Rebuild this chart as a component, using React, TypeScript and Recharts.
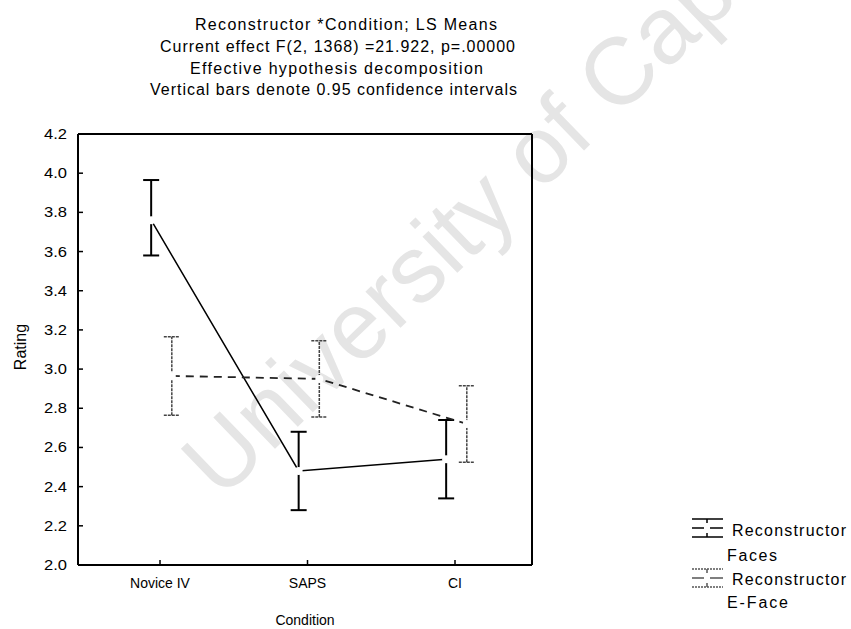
import React from 'react';
import { LineChart, Line, XAxis, YAxis, ErrorBar } from 'recharts';

// LS means with 0.95 confidence limits, per reconstructor and condition
const conditions = ['Novice IV', 'SAPS', 'CI'];
const facesMean = [3.76, 2.48, 2.54];
const facesLow = [3.58, 2.28, 2.34];
const facesHigh = [3.965, 2.68, 2.74];
const eFaceMean = [2.965, 2.95, 2.72];
const eFaceLow = [2.765, 2.755, 2.525];
const eFaceHigh = [3.165, 3.145, 2.915];
const ratingTicks = [2.0, 2.2, 2.4, 2.6, 2.8, 3.0, 3.2, 3.4, 3.6, 3.8, 4.0, 4.2];
const conditionTicks = [0, 1, 2];
const seriesNames = ['Reconstructor Faces', 'Reconstructor E-Face'];
const titleLines = [
  'Reconstructor *Condition; LS Means',
  'Current effect F(2, 1368) =21.922, p=.00000',
  'Effective hypothesis decomposition',
  'Vertical bars denote 0.95 confidence intervals',
];

const FONT = '"Liberation Sans", Arial, sans-serif';
const X_DOMAIN = [-0.556, 2.522];
// the two groups sit side by side around each condition tick
const FACES_SHIFT = -0.06;
const EFACE_SHIFT = 0.08;

const buildSeries = (mean: number[], low: number[], high: number[], shift: number) =>
  mean.map((m, i) => ({
    x: i + shift,
    rating: m,
    ci: [m - low[i], high[i] - m],
  }));

const facesData = buildSeries(facesMean, facesLow, facesHigh, FACES_SHIFT);
const eFaceData = buildSeries(eFaceMean, eFaceLow, eFaceHigh, EFACE_SHIFT);

const LeftTick = (props: any) => {
  const { x, y, payload } = props;
  return (
    <g>
      <line x1={x + 10} x2={x + 15} y1={y} y2={y} stroke="#000" strokeWidth={1.5} />
      <text
        x={x - 1}
        y={y + 5}
        textAnchor="end"
        fontSize={14}
        fontFamily={FONT}
        fill="#000"
        textLength={23}
        lengthAdjust="spacingAndGlyphs"
      >
        {Number(payload.value).toFixed(1)}
      </text>
    </g>
  );
};

const RightTick = (props: any) => {
  const { x, y } = props;
  return <line x1={x - 5} x2={x} y1={y} y2={y} stroke="#000" strokeWidth={1.5} />;
};

const BottomTick = (props: any) => {
  const { x, y, payload } = props;
  return (
    <g>
      <line x1={x} x2={x} y1={y - 5} y2={y} stroke="#000" strokeWidth={1.5} />
      <text x={x} y={y + 23} textAnchor="middle" fontSize={14} fontFamily={FONT} fill="#000">
        {conditions[payload.value]}
      </text>
    </g>
  );
};

const TopTick = (props: any) => {
  const { x, y } = props;
  return <line x1={x} x2={x} y1={y} y2={y + 5} stroke="#000" strokeWidth={1.5} />;
};

const LegendMark = ({ y, light }: { y: number; light?: boolean }) => {
  const stroke = light ? '#555' : '#000';
  const dash = light ? '2 1' : undefined;
  return (
    <g stroke={stroke} strokeWidth={1.5}>
      <line x1={692} x2={723} y1={y - 9} y2={y - 9} strokeDasharray={dash} />
      <line x1={707} x2={707} y1={y - 9} y2={y - 5} />
      <line x1={692} x2={704} y1={y} y2={y} />
      <line x1={710} x2={723} y1={y} y2={y} />
      <line x1={707} x2={707} y1={y + 5} y2={y + 9} />
      <line x1={692} x2={723} y1={y + 9} y2={y + 9} strokeDasharray={dash} />
    </g>
  );
};

const titleLayout = [
  { x: 195, y: 30, w: 302 },
  { x: 160, y: 52, w: 355 },
  { x: 190, y: 74, w: 293 },
  { x: 150, y: 95, w: 367 },
];

export default function App() {
  return (
    <div style={{ position: 'absolute', left: 0, top: 0, width: 851, height: 629, background: '#fff', overflow: 'hidden' }}>
      <svg width={851} height={629} style={{ position: 'absolute', left: 0, top: 0 }}>
        <text
          x={221}
          y={501}
          fontSize={95}
          fontFamily={FONT}
          fill="#e5e5e5"
          transform="rotate(-44 221 501)"
        >
          University of Cape Town
        </text>
      </svg>
      <div style={{ position: 'absolute', left: 0, top: 0 }}>
        <LineChart width={851} height={629} margin={{ top: 124, right: 309, bottom: 24, left: 18 }}>
          <XAxis
            xAxisId="b"
            type="number"
            dataKey="x"
            domain={X_DOMAIN}
            allowDataOverflow
            ticks={conditionTicks}
            height={40}
            tickSize={0}
            tickMargin={0}
            tickLine={false}
            axisLine={{ stroke: '#000', strokeWidth: 2 }}
            tick={BottomTick}
            interval={0}
          />
          <XAxis
            xAxisId="t"
            orientation="top"
            type="number"
            domain={X_DOMAIN}
            allowDataOverflow
            ticks={conditionTicks}
            height={10}
            tickSize={0}
            tickMargin={0}
            tickLine={false}
            axisLine={{ stroke: '#000', strokeWidth: 2 }}
            tick={TopTick}
            interval={0}
          />
          <YAxis
            yAxisId="l"
            type="number"
            domain={[2, 4.2]}
            ticks={ratingTicks}
            width={60}
            tickSize={0}
            tickMargin={10}
            tickLine={false}
            axisLine={{ stroke: '#000', strokeWidth: 2 }}
            tick={LeftTick}
            interval={0}
          />
          <YAxis
            yAxisId="r"
            orientation="right"
            type="number"
            domain={[2, 4.2]}
            ticks={ratingTicks}
            width={10}
            tickSize={0}
            tickMargin={0}
            tickLine={false}
            axisLine={{ stroke: '#000', strokeWidth: 2 }}
            tick={RightTick}
            interval={0}
          />
          <Line
            xAxisId="b"
            yAxisId="l"
            data={facesData}
            dataKey="rating"
            name={seriesNames[0]}
            stroke="#000"
            strokeWidth={1.5}
            dot={{ r: 4, fill: '#fff', stroke: 'none' }}
            activeDot={false}
            isAnimationActive={false}
          >
            <ErrorBar dataKey="ci" direction="y" width={8} stroke="#000" strokeWidth={2} />
          </Line>
          <Line
            xAxisId="b"
            yAxisId="l"
            data={eFaceData}
            dataKey="rating"
            name={seriesNames[1]}
            stroke="#222"
            strokeWidth={1.8}
            strokeDasharray="8 6"
            dot={{ r: 4, fill: '#fff', stroke: 'none' }}
            activeDot={false}
            isAnimationActive={false}
          >
            <ErrorBar dataKey="ci" direction="y" width={8} stroke="#444" strokeWidth={1.5} strokeDasharray="3 1" />
          </Line>
        </LineChart>
      </div>
      <svg width={851} height={629} style={{ position: 'absolute', left: 0, top: 0, pointerEvents: 'none' }}>
        {titleLines.map((t, i) => (
          <text
            key={t}
            x={titleLayout[i].x}
            y={titleLayout[i].y}
            fontSize={16}
            fontFamily={FONT}
            fill="#000"
            textLength={titleLayout[i].w}
            lengthAdjust="spacing"
          >
            {t}
          </text>
        ))}
        <text x={26} y={347} fontSize={16} fontFamily={FONT} textAnchor="middle" transform="rotate(-90 26 347)">
          Rating
        </text>
        <text x={305} y={625} fontSize={14} fontFamily={FONT} textAnchor="middle">
          Condition
        </text>
        <LegendMark y={528} />
        <text x={732} y={536} fontSize={16} fontFamily={FONT} textLength={114} lengthAdjust="spacing">
          Reconstructor
        </text>
        <text x={727} y={561} fontSize={16} fontFamily={FONT} textLength={50} lengthAdjust="spacing">
          Faces
        </text>
        <LegendMark y={578} light />
        <text x={732} y={585} fontSize={16} fontFamily={FONT} textLength={114} lengthAdjust="spacing">
          Reconstructor
        </text>
        <text x={727} y={608} fontSize={16} fontFamily={FONT} textLength={61} lengthAdjust="spacing">
          E-Face
        </text>
      </svg>
    </div>
  );
}
